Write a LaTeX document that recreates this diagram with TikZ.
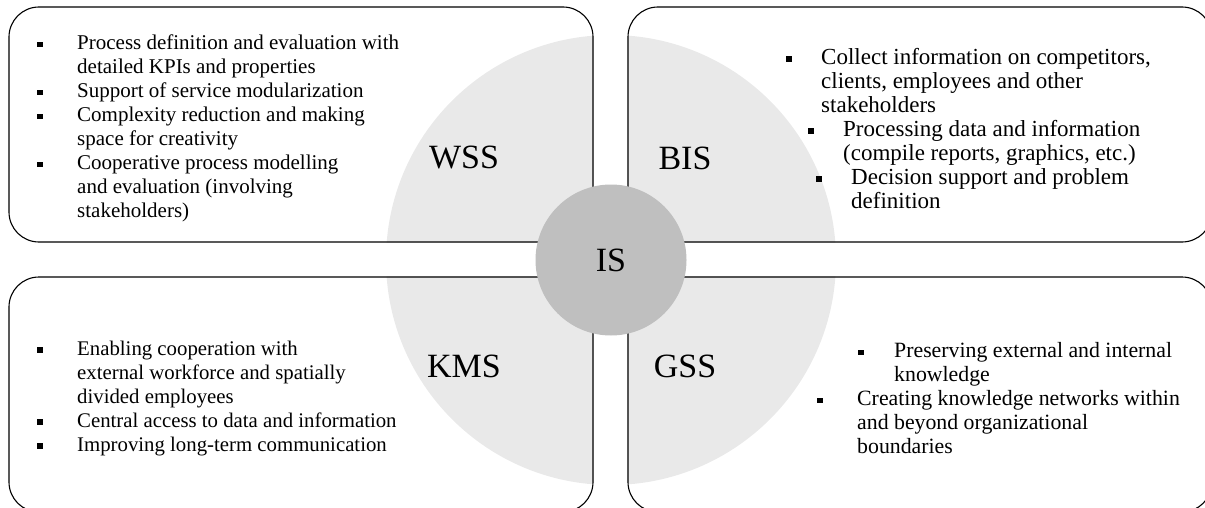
\documentclass[tikz,border=0pt]{standalone}
\usepackage{fontspec}
\setmainfont{Liberation Serif}
\usetikzlibrary{backgrounds}
\definecolor{ringgray}{RGB}{233,233,233}
\definecolor{hubgray}{RGB}{191,191,191}
\newcommand{\sqbul}{\rule[2.6pt]{5.5pt}{5.5pt}}
\newcommand{\sqitem}[1]{\makebox[#1][l]{\sqbul}}
\newcommand{\sqpad}[1]{\hspace*{#1}}

\begin{document}
\begin{tikzpicture}[x=1pt, y=-1pt,
    quad/.style={draw, line width=1.1pt, rounded corners=30pt, inner sep=0pt,
      minimum width=584pt, minimum height=235pt},
    bullets/.style={anchor=west, align=left, inner sep=0pt,
      font=\fontsize{21}{24}\selectfont},
    tag/.style={font=\fontsize{34}{40}\selectfont}]
  \useasboundingbox (0,0) rectangle (1205,508);
  \clip (0,0) rectangle (1205,508);

  %% ── Quadrant boxes ─────────────────────────────────────────
  \node[quad] (wssbox) at (301,124.5) {};
  \node[quad] (bisbox) at (920,124.5) {};
  \node[quad] (kmsbox) at (301,394.5) {};
  \node[quad] (gssbox) at (920,394.5) {};

  %% ── Light ring behind, only inside the boxes ───────────────
  \begin{scope}[on background layer]
    \clip[rounded corners=30pt]
      (wssbox.north west) rectangle (wssbox.south east)
      (bisbox.north west) rectangle (bisbox.south east)
      (kmsbox.north west) rectangle (kmsbox.south east)
      (gssbox.north west) rectangle (gssbox.south east);
    \fill[ringgray] (611,260) circle (225);
  \end{scope}

  %% ── Quadrant labels ────────────────────────────────────────
  \node[tag] (wss) at (464,158) {WSS};
  \node[tag] (bis) at (685,158) {BIS};
  \node[tag] (kms) at (464,366) {KMS};
  \node[tag] (gss) at (685,366) {GSS};

  %% ── Bullet lists ───────────────────────────────────────────
  \node[bullets] (wsslist) at (37,128.5) {%
    \sqitem{40pt}Process definition and evaluation with\\
    \sqpad{40pt}detailed KPIs and properties\\
    \sqitem{40pt}Support of service modularization\\
    \sqitem{40pt}Complexity reduction and making\\
    \sqpad{40pt}space for creativity\\
    \sqitem{40pt}Cooperative process modelling\\
    \sqpad{40pt}and evaluation (involving\\
    \sqpad{40pt}stakeholders)};
  \node[bullets, font=\fontsize{23}{24}\selectfont] (bislist) at (786,128.5) {%
    \sqitem{35pt}Collect information on competitors,\\
    \sqpad{35pt}clients, employees and other\\
    \sqpad{35pt}stakeholders\\
    \sqpad{22pt}\sqitem{35pt}Processing data and information\\
    \sqpad{57pt}(compile reports, graphics, etc.)\\
    \sqpad{30pt}\sqitem{35pt}Decision support and problem\\
    \sqpad{65pt}definition};
  \node[bullets, font=\fontsize{20.8}{24}\selectfont] (kmslist) at (37,398.5) {%
    \sqitem{40pt}Enabling cooperation with\\
    \sqpad{40pt}external workforce and spatially\\
    \sqpad{40pt}divided employees\\
    \sqitem{40pt}Central access to data and information\\
    \sqitem{40pt}Improving long-term communication};
  \node[bullets, font=\fontsize{21.8}{24}\selectfont] (gsslist) at (817,398.5) {%
    \sqpad{41pt}\sqitem{36pt}Preserving external and internal\\
    \sqpad{77pt}knowledge\\
    \sqitem{40pt}Creating knowledge networks within\\
    \sqpad{40pt}and beyond organizational\\
    \sqpad{40pt}boundaries};

  %% ── Hub ────────────────────────────────────────────────────
  \node[circle, fill=hubgray, minimum size=151pt, inner sep=0pt, tag]
    (is) at (611,260) {IS};
\end{tikzpicture}
\end{document}
